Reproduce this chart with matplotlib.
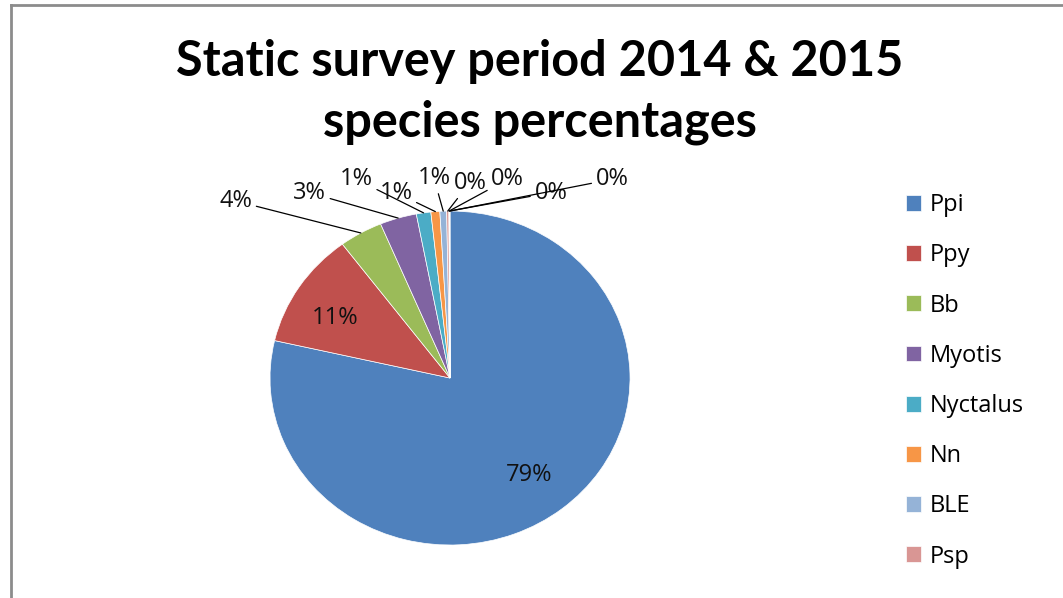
import numpy as np
import matplotlib.pyplot as plt
from matplotlib.lines import Line2D

# species shares of static survey (%)
species = ['Ppi', 'Ppy', 'Bb', 'Myotis', 'Nyctalus', 'Nn', 'BLE', 'Psp']
shares = [78.6, 11.2, 3.9, 3.3, 1.3, 0.8, 0.6, 0.2]
# three more tiny slices appear in the pie but the legend was cut off
extra_shares = [0.04, 0.03, 0.03]

colors = ['#4F81BD', '#C0504D', '#9BBB59', '#8064A2', '#4BACC6', '#F79646',
          '#95B3D7', '#D99694', '#C3D69B', '#B3A2C7', '#93CDDD']

# label positions in pie units (radius 1)
label_pos = [(0.44, -0.58), (-0.64, 0.36), (-1.19, 1.06), (-0.78, 1.11),
             (-0.52, 1.19), (-0.30, 1.11), (-0.09, 1.20), (0.11, 1.17),
             (0.32, 1.19), (0.56, 1.11), (0.90, 1.19)]

plt.rcParams['font.family'] = ['Open Sans', 'DejaVu Sans']

fig = plt.figure(figsize=(10.63, 5.98), dpi=100)
ax = fig.add_axes([0.254, 0.0886, 0.3387, 0.5585])

values = shares + extra_shares
total = sum(values)
wedges, _ = ax.pie(values, colors=colors, startangle=90, counterclock=False,
                   wedgeprops=dict(edgecolor='white', linewidth=0.5))
ax.set_aspect('auto')
ax.set_xlim(-1, 1)
ax.set_ylim(-1, 1)

for i, (w, v) in enumerate(zip(wedges, values)):
    txt = f"{round(v / total * 100)}%"
    x, y = label_pos[i]
    if i < 2:
        ax.text(x, y, txt, ha='center', va='center', fontsize=17, color='#111111')
    else:
        mid = np.deg2rad((w.theta1 + w.theta2) / 2)
        ax.annotate(txt, xy=(np.cos(mid), np.sin(mid)), xytext=(x, y),
                    ha='center', va='center', fontsize=17, color='#111111',
                    annotation_clip=False,
                    arrowprops=dict(arrowstyle='-', color='black', lw=0.9,
                                    shrinkA=1, shrinkB=0))

fig.text(0.508, 0.846, 'Static survey period 2014 & 2015\nspecies percentages',
         ha='center', va='center', fontsize=35, fontweight='bold',
         family='Lato', linespacing=1.42)

fig.legend(wedges[:len(species)], species, loc='upper left',
           bbox_to_anchor=(0.852, 0.677), frameon=False, fontsize=17,
           handlelength=0.65, handleheight=0.65, handletextpad=0.35,
           labelspacing=1.11, borderpad=0, borderaxespad=0)

# chart frame (top and left edges visible)
fig.add_artist(Line2D([0.0103, 0.0103], [0, 0.992], color='#8c8c8c', lw=2,
                      transform=fig.transFigure))
fig.add_artist(Line2D([0.0103, 1], [0.992, 0.992], color='#8c8c8c', lw=2,
                      transform=fig.transFigure))

fig.savefig('out.png', dpi=100)
